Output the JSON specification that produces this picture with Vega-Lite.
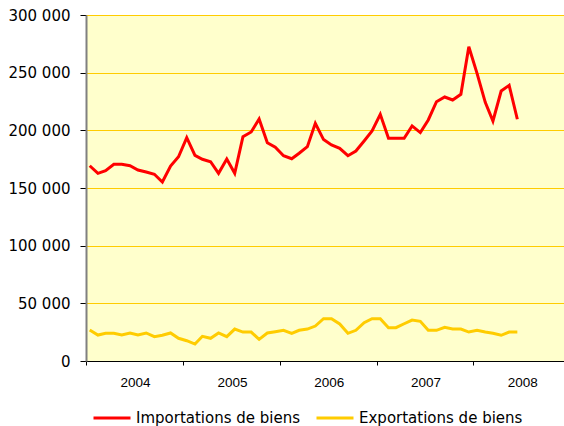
{
  "$schema": "https://vega.github.io/schema/vega-lite/v6.json",
  "width": 478,
  "height": 346,
  "autosize": {"type": "none"},
  "padding": {"left": 86, "top": 15, "right": 0, "bottom": 65},
  "background": "white",
  "config": {"view": {"fill": "#FFFFCC", "stroke": null}},
  "data": {"values": [
    {"date": "2004-01-15", "serie": "Importations de biens", "valeur": 169300},
    {"date": "2004-02-15", "serie": "Importations de biens", "valeur": 162700},
    {"date": "2004-03-15", "serie": "Importations de biens", "valeur": 165000},
    {"date": "2004-04-15", "serie": "Importations de biens", "valeur": 170500},
    {"date": "2004-05-15", "serie": "Importations de biens", "valeur": 170500},
    {"date": "2004-06-15", "serie": "Importations de biens", "valeur": 169300},
    {"date": "2004-07-15", "serie": "Importations de biens", "valeur": 165600},
    {"date": "2004-08-15", "serie": "Importations de biens", "valeur": 163900},
    {"date": "2004-09-15", "serie": "Importations de biens", "valeur": 161900},
    {"date": "2004-10-15", "serie": "Importations de biens", "valeur": 155200},
    {"date": "2004-11-15", "serie": "Importations de biens", "valeur": 169100},
    {"date": "2004-12-15", "serie": "Importations de biens", "valeur": 177100},
    {"date": "2005-01-15", "serie": "Importations de biens", "valeur": 193600},
    {"date": "2005-02-15", "serie": "Importations de biens", "valeur": 178300},
    {"date": "2005-03-15", "serie": "Importations de biens", "valeur": 174900},
    {"date": "2005-04-15", "serie": "Importations de biens", "valeur": 172800},
    {"date": "2005-05-15", "serie": "Importations de biens", "valeur": 162700},
    {"date": "2005-06-15", "serie": "Importations de biens", "valeur": 175100},
    {"date": "2005-07-15", "serie": "Importations de biens", "valeur": 162700},
    {"date": "2005-08-15", "serie": "Importations de biens", "valeur": 194500},
    {"date": "2005-09-15", "serie": "Importations de biens", "valeur": 198600},
    {"date": "2005-10-15", "serie": "Importations de biens", "valeur": 209800},
    {"date": "2005-11-15", "serie": "Importations de biens", "valeur": 189300},
    {"date": "2005-12-15", "serie": "Importations de biens", "valeur": 185300},
    {"date": "2006-01-15", "serie": "Importations de biens", "valeur": 178000},
    {"date": "2006-02-15", "serie": "Importations de biens", "valeur": 175400},
    {"date": "2006-03-15", "serie": "Importations de biens", "valeur": 180100},
    {"date": "2006-04-15", "serie": "Importations de biens", "valeur": 185800},
    {"date": "2006-05-15", "serie": "Importations de biens", "valeur": 206100},
    {"date": "2006-06-15", "serie": "Importations de biens", "valeur": 192000},
    {"date": "2006-07-15", "serie": "Importations de biens", "valeur": 187300},
    {"date": "2006-08-15", "serie": "Importations de biens", "valeur": 184400},
    {"date": "2006-09-15", "serie": "Importations de biens", "valeur": 178000},
    {"date": "2006-10-15", "serie": "Importations de biens", "valeur": 182100},
    {"date": "2006-11-15", "serie": "Importations de biens", "valeur": 190700},
    {"date": "2006-12-15", "serie": "Importations de biens", "valeur": 199400},
    {"date": "2007-01-15", "serie": "Importations de biens", "valeur": 213900},
    {"date": "2007-02-15", "serie": "Importations de biens", "valeur": 193100},
    {"date": "2007-03-15", "serie": "Importations de biens", "valeur": 193100},
    {"date": "2007-04-15", "serie": "Importations de biens", "valeur": 193100},
    {"date": "2007-05-15", "serie": "Importations de biens", "valeur": 203800},
    {"date": "2007-06-15", "serie": "Importations de biens", "valeur": 198000},
    {"date": "2007-07-15", "serie": "Importations de biens", "valeur": 209000},
    {"date": "2007-08-15", "serie": "Importations de biens", "valeur": 224800},
    {"date": "2007-09-15", "serie": "Importations de biens", "valeur": 228900},
    {"date": "2007-10-15", "serie": "Importations de biens", "valeur": 226300},
    {"date": "2007-11-15", "serie": "Importations de biens", "valeur": 231200},
    {"date": "2007-12-15", "serie": "Importations de biens", "valeur": 272500},
    {"date": "2008-01-15", "serie": "Importations de biens", "valeur": 249400},
    {"date": "2008-02-15", "serie": "Importations de biens", "valeur": 224300},
    {"date": "2008-03-15", "serie": "Importations de biens", "valeur": 208100},
    {"date": "2008-04-15", "serie": "Importations de biens", "valeur": 234100},
    {"date": "2008-05-15", "serie": "Importations de biens", "valeur": 239000},
    {"date": "2008-06-15", "serie": "Importations de biens", "valeur": 209600},
    {"date": "2004-01-15", "serie": "Exportations de biens", "valeur": 26900},
    {"date": "2004-02-15", "serie": "Exportations de biens", "valeur": 22500},
    {"date": "2004-03-15", "serie": "Exportations de biens", "valeur": 24000},
    {"date": "2004-04-15", "serie": "Exportations de biens", "valeur": 24000},
    {"date": "2004-05-15", "serie": "Exportations de biens", "valeur": 22500},
    {"date": "2004-06-15", "serie": "Exportations de biens", "valeur": 24300},
    {"date": "2004-07-15", "serie": "Exportations de biens", "valeur": 22500},
    {"date": "2004-08-15", "serie": "Exportations de biens", "valeur": 24300},
    {"date": "2004-09-15", "serie": "Exportations de biens", "valeur": 21100},
    {"date": "2004-10-15", "serie": "Exportations de biens", "valeur": 22300},
    {"date": "2004-11-15", "serie": "Exportations de biens", "valeur": 24300},
    {"date": "2004-12-15", "serie": "Exportations de biens", "valeur": 19700},
    {"date": "2005-01-15", "serie": "Exportations de biens", "valeur": 17600},
    {"date": "2005-02-15", "serie": "Exportations de biens", "valeur": 14700},
    {"date": "2005-03-15", "serie": "Exportations de biens", "valeur": 21400},
    {"date": "2005-04-15", "serie": "Exportations de biens", "valeur": 19700},
    {"date": "2005-05-15", "serie": "Exportations de biens", "valeur": 24300},
    {"date": "2005-06-15", "serie": "Exportations de biens", "valeur": 21100},
    {"date": "2005-07-15", "serie": "Exportations de biens", "valeur": 27700},
    {"date": "2005-08-15", "serie": "Exportations de biens", "valeur": 25100},
    {"date": "2005-09-15", "serie": "Exportations de biens", "valeur": 25100},
    {"date": "2005-10-15", "serie": "Exportations de biens", "valeur": 18800},
    {"date": "2005-11-15", "serie": "Exportations de biens", "valeur": 24300},
    {"date": "2005-12-15", "serie": "Exportations de biens", "valeur": 25400},
    {"date": "2006-01-15", "serie": "Exportations de biens", "valeur": 26600},
    {"date": "2006-02-15", "serie": "Exportations de biens", "valeur": 24000},
    {"date": "2006-03-15", "serie": "Exportations de biens", "valeur": 26600},
    {"date": "2006-04-15", "serie": "Exportations de biens", "valeur": 27700},
    {"date": "2006-05-15", "serie": "Exportations de biens", "valeur": 30300},
    {"date": "2006-06-15", "serie": "Exportations de biens", "valeur": 36700},
    {"date": "2006-07-15", "serie": "Exportations de biens", "valeur": 36700},
    {"date": "2006-08-15", "serie": "Exportations de biens", "valeur": 32100},
    {"date": "2006-09-15", "serie": "Exportations de biens", "valeur": 24000},
    {"date": "2006-10-15", "serie": "Exportations de biens", "valeur": 26600},
    {"date": "2006-11-15", "serie": "Exportations de biens", "valeur": 33200},
    {"date": "2006-12-15", "serie": "Exportations de biens", "valeur": 36700},
    {"date": "2007-01-15", "serie": "Exportations de biens", "valeur": 36700},
    {"date": "2007-02-15", "serie": "Exportations de biens", "valeur": 28900},
    {"date": "2007-03-15", "serie": "Exportations de biens", "valeur": 28900},
    {"date": "2007-04-15", "serie": "Exportations de biens", "valeur": 32300},
    {"date": "2007-05-15", "serie": "Exportations de biens", "valeur": 35500},
    {"date": "2007-06-15", "serie": "Exportations de biens", "valeur": 34400},
    {"date": "2007-07-15", "serie": "Exportations de biens", "valeur": 26600},
    {"date": "2007-08-15", "serie": "Exportations de biens", "valeur": 26600},
    {"date": "2007-09-15", "serie": "Exportations de biens", "valeur": 29200},
    {"date": "2007-10-15", "serie": "Exportations de biens", "valeur": 27700},
    {"date": "2007-11-15", "serie": "Exportations de biens", "valeur": 27700},
    {"date": "2007-12-15", "serie": "Exportations de biens", "valeur": 25100},
    {"date": "2008-01-15", "serie": "Exportations de biens", "valeur": 26600},
    {"date": "2008-02-15", "serie": "Exportations de biens", "valeur": 25100},
    {"date": "2008-03-15", "serie": "Exportations de biens", "valeur": 24000},
    {"date": "2008-04-15", "serie": "Exportations de biens", "valeur": 22300},
    {"date": "2008-05-15", "serie": "Exportations de biens", "valeur": 25100},
    {"date": "2008-06-15", "serie": "Exportations de biens", "valeur": 25100}
  ]},
  "mark": {"type": "line", "strokeWidth": 3},
  "encoding": {
    "x": {
      "field": "date", "type": "temporal",
      "scale": {"domain": [{"year": 2004, "month": 1, "date": 1}, {"year": 2008, "month": 12, "date": 8}]},
      "axis": {
        "title": null, "grid": false,
        "values": [{"year": 2004, "month": 1, "date": 1}, {"year": 2005, "month": 1, "date": 1}, {"year": 2006, "month": 1, "date": 1}, {"year": 2007, "month": 1, "date": 1}, {"year": 2008, "month": 1, "date": 1}],
        "labelExpr": "timeFormat(datum.value, '%Y')",
        "labelOffset": 49,
        "labelFlush": false, "labelOverlap": false, "labelBound": false,
        "tickSize": 4, "tickColor": "black", "domainColor": "black", "domainWidth": 1,
        "labelFont": "Liberation Sans", "labelFontSize": 13.5, "labelColor": "black", "labelPadding": 10
      }
    },
    "y": {
      "field": "valeur", "type": "quantitative",
      "scale": {"domain": [0, 300000]},
      "axis": {
        "title": null,
        "values": [0, 50000, 100000, 150000, 200000, 250000, 300000],
        "labelExpr": "replace(format(datum.value, ',d'), ',', ' ')",
        "gridColor": "#FFCC00", "gridWidth": 1,
        "domainColor": "#808080", "domainWidth": 2,
        "tickColor": "black", "tickSize": 6,
        "labelFont": "DejaVu Sans", "labelFontSize": 15, "labelColor": "black", "labelPadding": 10
      }
    },
    "color": {
      "field": "serie", "type": "nominal",
      "scale": {"domain": ["Importations de biens", "Exportations de biens"], "range": ["#FF0000", "#FFCC00"]},
      "legend": {
        "orient": "none", "legendX": 6, "legendY": 383, "direction": "horizontal", "title": null,
        "symbolType": "stroke", "symbolSize": 1369, "symbolStrokeWidth": 3,
        "labelFont": "DejaVu Sans", "labelFontSize": 15, "labelColor": "black",
        "labelOffset": 4, "columnPadding": 9, "labelLimit": 400
      }
    }
  }
}
